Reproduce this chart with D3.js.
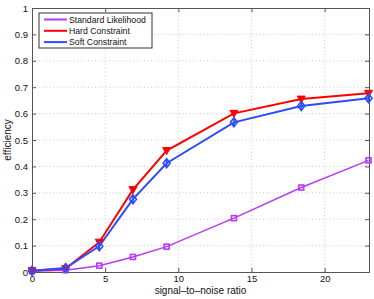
<!DOCTYPE html>
<html lang="en">
	<head>
		<meta charset="utf-8">
		<title>efficiency vs signal-to-noise ratio</title>
		<script type="text/javascript" src="https://cdn.jsdelivr.net/npm/d3@7"></script>
		<style type="text/css">
			body { margin: 0; background: #fff; }
			text { font-family: "Liberation Sans", Arial, sans-serif; }
		</style>
	</head>
	<body>
		<script type="text/javascript">
			// data
			var snr = [0, 2.3, 4.6, 6.9, 9.2, 13.8, 18.4, 23.0];
			var standard = [0.003, 0.007, 0.024, 0.057, 0.096, 0.204, 0.32, 0.423];
			var hard = [0.005, 0.013, 0.113, 0.312, 0.46, 0.601, 0.655, 0.677];
			var soft = [0.005, 0.015, 0.098, 0.276, 0.412, 0.567, 0.629, 0.658];
			var seriesNames = ["Standard Likelihood", "Hard Constraint", "Soft Constraint"];
			var xTicks = [0, 5, 10, 15, 20];
			var yTicks = [0, 0.1, 0.2, 0.3, 0.4, 0.5, 0.6, 0.7, 0.8, 0.9, 1];

			var w = 374;
			var h = 299;
			var margin = {top: 8, right: 5, bottom: 27, left: 32};

			var colors = ["#b33cf5", "#ff0000", "#2e4cff"];

			var xScale = d3.scaleLinear()
						.domain([0, 23.03])
						.range([margin.left, w - margin.right]);

			var yScale = d3.scaleLinear()
						.domain([0, 1])
						.range([h - margin.bottom, margin.top]);

			var svg = d3.select("body")
						.append("svg")
						.attr("width", w)
						.attr("height", h);

			//grid
			svg.append("g")
				.selectAll("line")
				.data(xTicks.slice(1))
				.enter()
				.append("line")
				.attr("x1", function(d) { return xScale(d); })
				.attr("x2", function(d) { return xScale(d); })
				.attr("y1", yScale(0))
				.attr("y2", yScale(1))
				.attr("stroke", "#bbb")
				.attr("stroke-width", 0.8)
				.attr("stroke-dasharray", "1,2.5");

			svg.append("g")
				.selectAll("line")
				.data(yTicks.slice(1, -1))
				.enter()
				.append("line")
				.attr("y1", function(d) { return yScale(d); })
				.attr("y2", function(d) { return yScale(d); })
				.attr("x1", xScale(0))
				.attr("x2", xScale(23.03))
				.attr("stroke", "#bbb")
				.attr("stroke-width", 0.8)
				.attr("stroke-dasharray", "1,2.5");

			// axes, ticks pointing inward like matlab
			var xAxis = d3.axisBottom(xScale).tickValues(xTicks).tickSize(-4).tickPadding(3)
						.tickFormat(d3.format("d"));
			var xAxisTop = d3.axisTop(xScale).tickValues(xTicks).tickSize(-4).tickFormat("");
			var yAxis = d3.axisLeft(yScale).tickValues(yTicks).tickSize(-4).tickPadding(4)
						.tickFormat(function(d) { return d === 0 ? "0" : d === 1 ? "1" : d3.format(".1f")(d); });
			var yAxisRight = d3.axisRight(yScale).tickValues(yTicks).tickSize(-4).tickFormat("");

			function styleAxis(g) {
				g.selectAll(".domain").attr("stroke", "#555");
				g.selectAll(".tick line").attr("stroke", "#555");
				g.selectAll("text").attr("fill", "#111").style("font-size", "9.5px");
			}

			svg.append("g")
				.attr("transform", "translate(0," + yScale(0) + ")")
				.call(xAxis).call(styleAxis);
			svg.append("g")
				.attr("transform", "translate(0," + yScale(1) + ")")
				.call(xAxisTop).call(styleAxis);
			svg.append("g")
				.attr("transform", "translate(" + xScale(0) + ",0)")
				.call(yAxis).call(styleAxis);
			svg.append("g")
				.attr("transform", "translate(" + xScale(23.03) + ",0)")
				.call(yAxisRight).call(styleAxis);

			// lines
			var line = d3.line()
						.x(function(d, i) { return xScale(snr[i]); })
						.y(function(d) { return yScale(d); });

			var allSeries = [standard, hard, soft];
			var widths = [1.5, 2, 2];
			allSeries.forEach(function(s, k) {
				svg.append("path")
					.datum(s)
					.attr("d", line)
					.attr("fill", "none")
					.attr("stroke", colors[k])
					.attr("stroke-width", widths[k]);
			});

			// markers
			svg.append("g")
				.selectAll("rect")
				.data(standard)
				.enter()
				.append("rect")
				.attr("x", function(d, i) { return xScale(snr[i]) - 2.5; })
				.attr("y", function(d) { return yScale(d) - 2.5; })
				.attr("width", 5)
				.attr("height", 5)
				.attr("fill", "none")
				.attr("stroke", colors[0])
				.attr("stroke-width", 1.6);

			svg.append("g")
				.selectAll("path")
				.data(hard)
				.enter()
				.append("path")
				.attr("d", function(d, i) {
					var x = xScale(snr[i]), y = yScale(d);
					return "M" + (x - 4) + "," + (y - 3) + "L" + (x + 4) + "," + (y - 3) + "L" + x + "," + (y + 4) + "Z";
				})
				.attr("fill", colors[1])
				.attr("stroke", colors[1])
				.attr("stroke-width", 1);

			svg.append("g")
				.selectAll("path")
				.data(soft)
				.enter()
				.append("path")
				.attr("d", function(d, i) {
					var x = xScale(snr[i]), y = yScale(d);
					return "M" + x + "," + (y - 4.5) + "L" + (x + 3.5) + "," + y + "L" + x + "," + (y + 4.5) + "L" + (x - 3.5) + "," + y + "Z" +
						"M" + x + "," + (y - 5) + "L" + x + "," + (y + 5);
				})
				.attr("fill", "none")
				.attr("stroke", colors[2])
				.attr("stroke-width", 1.6);

			// legend
			var legend = svg.append("g").attr("transform", "translate(39,13)");
			legend.append("rect")
				.attr("width", 113)
				.attr("height", 35)
				.attr("fill", "#fff")
				.attr("stroke", "#333")
				.attr("stroke-width", 1);
			seriesNames.forEach(function(name, k) {
				var y = 6.5 + k * 11.3;
				legend.append("line")
					.attr("x1", 5).attr("x2", 28)
					.attr("y1", y).attr("y2", y)
					.attr("stroke", colors[k])
					.attr("stroke-width", 2);
				legend.append("text")
					.attr("x", 30)
					.attr("y", y + 3)
					.style("font-size", "8.7px")
					.attr("fill", "#111")
					.text(name);
			});

			// axis titles
			svg.append("text")
				.attr("x", (xScale(0) + xScale(23.03)) / 2)
				.attr("y", 294)
				.attr("text-anchor", "middle")
				.style("font-size", "10px")
				.attr("fill", "#111")
				.text("signal\u2013to\u2013noise ratio");

			svg.append("text")
				.attr("transform", "translate(11," + yScale(0.5) + ") rotate(-90)")
				.attr("text-anchor", "middle")
				.style("font-size", "10px")
				.attr("fill", "#111")
				.text("efficiency");
		</script>
	</body>
</html>
